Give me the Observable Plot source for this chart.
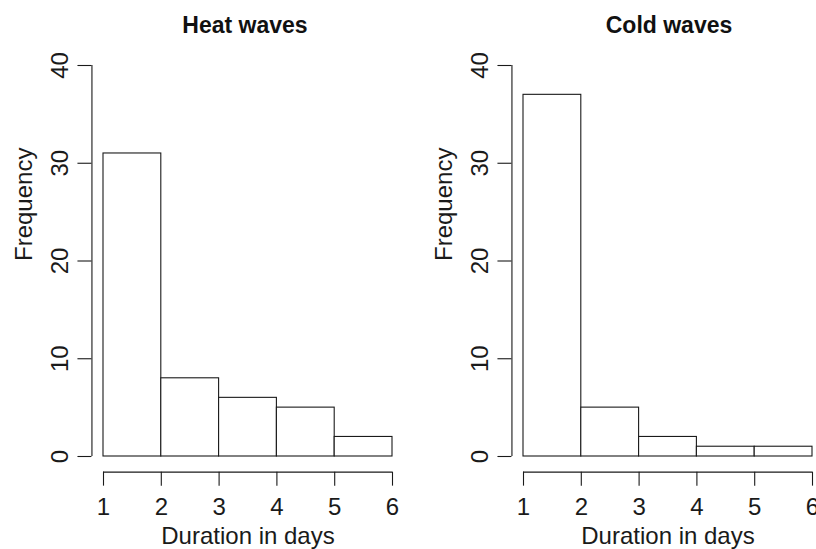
<!DOCTYPE html>
<html>
<head>
<meta charset="utf-8">
<script src="https://cdn.jsdelivr.net/npm/d3@7"></script>
<script src="https://cdn.jsdelivr.net/npm/@observablehq/plot@0.6"></script>
<style>
  html, body { margin: 0; padding: 0; background: white; overflow: hidden; }
  #wrap { display: flex; flex-wrap: nowrap; width: 840px; }
  .panel { position: relative; width: 420px; flex: 0 0 420px; }
  .title { height: 46px; position: relative; font-family: "Liberation Sans", Arial, sans-serif; font-weight: bold; font-size: 23px; line-height: 23px; }
  .title span { position: absolute; top: 14px; transform: translateX(-50%); white-space: nowrap; color: #111; }
  svg { display: block; }
</style>
</head>
<body>
<div id="wrap"></div>
<script>
// Histogram data
const breaks = [1, 2, 3, 4, 5, 6];
const heatCounts = [31, 8, 6, 5, 2];
const coldCounts = [37, 5, 2, 1, 1];
const panelTitles = ["Heat waves", "Cold waves"];
const xTicks = [1, 2, 3, 4, 5, 6];
const yTicks = [0, 10, 20, 30, 40];
const xLabel = "Duration in days";
const yLabel = "Frequency";

function makePanel(title, counts, titleCenter) {
  const bins = counts.map((c, i) => ({x1: breaks[i], x2: breaks[i + 1], count: c}));
  // R-style 4% axis extension
  const xr = xTicks[xTicks.length - 1] - xTicks[0];
  const yr = yTicks[yTicks.length - 1] - yTicks[0];
  const xDomain = [xTicks[0] - 0.04 * xr, xTicks[xTicks.length - 1] + 0.04 * xr];
  const yDomain = [yTicks[0] - 0.04 * yr, yTicks[yTicks.length - 1] + 0.04 * yr];

  const panel = document.createElement("div");
  panel.className = "panel";
  const t = document.createElement("div");
  t.className = "title";
  const s = document.createElement("span");
  s.textContent = title;
  s.style.left = titleCenter + "px";
  t.appendChild(s);
  panel.appendChild(t);

  const chart = Plot.plot({
    width: 420,
    height: 503,
    marginLeft: 91.44,
    marginRight: 16.44,
    marginTop: 3.36,
    marginBottom: 77.36,
    x: {domain: xDomain},
    y: {domain: yDomain},
    style: {fontFamily: "'Liberation Sans', Arial, sans-serif", fontSize: "24px", color: "#1a1a1a", background: "white", overflow: "visible"},
    marks: [
      Plot.rectY(bins, {x1: "x1", x2: "x2", y: "count", fill: "white", stroke: "#1a1a1a", strokeWidth: 1.1, inset: 0}),
      Plot.ruleX([xDomain[0]], {y1: yTicks[0], y2: yTicks[yTicks.length - 1], stroke: "#1a1a1a", strokeWidth: 1.1}),
      Plot.ruleY([yDomain[0]], {x1: xTicks[0], x2: xTicks[xTicks.length - 1], stroke: "#1a1a1a", strokeWidth: 1.1}),
      Plot.axisY(yTicks, {anchor: "left", tickSize: 14, tickRotate: -90, tickPadding: 10, label: null, fontSize: 24, strokeWidth: 1.1}),
      Plot.axisX(xTicks, {anchor: "bottom", tickSize: 14, tickPadding: 12, label: null, fontSize: 24, strokeWidth: 1.1}),
      Plot.text([xLabel], {text: d => d, frameAnchor: "bottom", lineAnchor: "top", dy: 55, fontSize: 24}),
      Plot.text([yLabel], {text: d => d, frameAnchor: "left", rotate: -90, lineAnchor: "middle", dx: -68, fontSize: 24})
    ]
  });
  panel.appendChild(chart);
  return panel;
}

const wrap = document.getElementById("wrap");
wrap.appendChild(makePanel(panelTitles[0], heatCounts, 245));
wrap.appendChild(makePanel(panelTitles[1], coldCounts, 249));
</script>
</body>
</html>
